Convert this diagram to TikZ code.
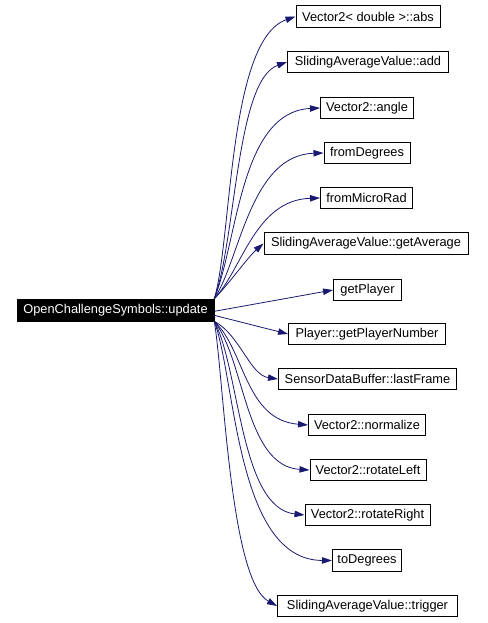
\documentclass[tikz,border=0pt]{standalone}
\usepackage{fontspec}
\setmainfont{Liberation Sans}
\usetikzlibrary{arrows.meta}
\definecolor{edgeblue}{RGB}{25,25,112}
\begin{document}
\begin{tikzpicture}[x=0.75pt,y=-0.75pt,
  fn/.style={draw=black,line width=0.75pt,fill=white,minimum height=16pt,inner sep=0pt,font=\fontsize{9.6pt}{11pt}\selectfont},
  srcbox/.style={draw=black,fill=black,text=white,minimum height=16.5pt,inner sep=0pt,font=\fontsize{9.6pt}{11pt}\selectfont},
  call/.style={draw=edgeblue,line width=0.6pt,-{Triangle[length=7.5pt,width=4.8pt]}}]
\useasboundingbox (0,0) rectangle (487,623);
\node[srcbox,minimum width=147.75pt] (src) at (115.5,310) {OpenChallengeSymbols::update};
\node[fn,minimum width=108pt] (abs) at (368,16.5) {Vector2< double >::abs};
\node[fn,minimum width=120.75pt] (add) at (368,62) {SlidingAverageValue::add};
\node[fn,minimum width=69.75pt] (angle) at (367,108) {Vector2::angle};
\node[fn,minimum width=64.5pt] (fdeg) at (367,153) {fromDegrees};
\node[fn,minimum width=69pt] (fmr) at (366.5,198) {fromMicroRad};
\node[fn,minimum width=153pt] (avg) at (366,243.5) {SlidingAverageValue::getAverage};
\node[fn,minimum width=51pt] (gp) at (367.5,290) {getPlayer};
\node[fn,minimum width=117.75pt] (gpn) at (367,334) {Player::getPlayerNumber};
\node[fn,minimum width=133.5pt] (lf) at (367.5,379) {SensorDataBuffer::lastFrame};
\node[fn,minimum width=87.75pt] (norm) at (367,425) {Vector2::normalize};
\node[fn,minimum width=87pt] (rl) at (368,470) {Vector2::rotateLeft};
\node[fn,minimum width=93.75pt] (rr) at (367.5,515) {Vector2::rotateRight};
\node[fn,minimum width=51.75pt] (tdeg) at (367,560.5) {toDegrees};
\node[fn,minimum width=135pt] (trig) at (367.5,606) {SlidingAverageValue::trigger};

\draw[call] (src.north east) .. controls (232,240) and (228,40) .. (abs.west);
\draw[call] (src.north east) .. controls (236,240) and (236,80) .. (add.west);
\draw[call] (src.north east) .. controls (238,240) and (240,112) .. (angle.west);
\draw[call] (src.north east) .. controls (240,260) and (250,155) .. (fdeg.west);
\draw[call] (src.north east) .. controls (242,270) and (255,200) .. (fmr.west);
\draw[call] (src.north east) .. controls (228,285) and (248,257) .. (avg.west);
\draw[call] ([yshift=-1pt]src.east) -- (gp.west);
\draw[call] ([yshift=-4pt]src.east) -- (gpn.west);
\draw[call] (src.south east) .. controls (240,335) and (250,375) .. (lf.west);
\draw[call] (src.south east) .. controls (245,350) and (245,420) .. (norm.west);
\draw[call] (src.south east) .. controls (245,360) and (245,466) .. (rl.west);
\draw[call] (src.south east) .. controls (240,370) and (240,508) .. (rr.west);
\draw[call] (src.south east) .. controls (236,380) and (236,560) .. (tdeg.west);
\draw[call] (src.south east) .. controls (224,380) and (230,580) .. (trig.west);
\end{tikzpicture}
\end{document}
